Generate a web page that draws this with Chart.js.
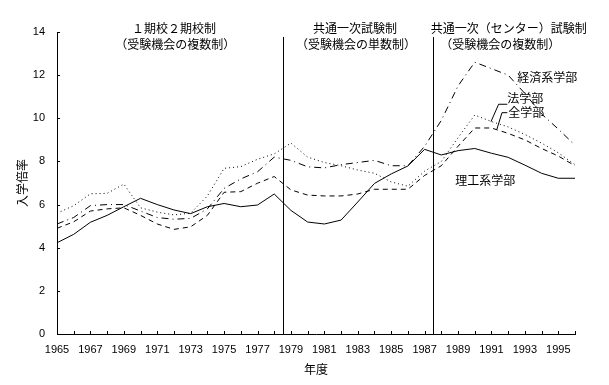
<!DOCTYPE html>
<html>
<head>
<meta charset="utf-8">
<script src="https://cdn.jsdelivr.net/npm/chart.js@4"></script>
<style>
  html, body { margin: 0; padding: 0; background: #fff; }
</style>
</head>
<body>
<canvas id="grafico" width="609" height="385"></canvas>
<script>
// 年度
const anos = [1965, 1966, 1967, 1968, 1969, 1970, 1971, 1972, 1973, 1974, 1975, 1976, 1977, 1978, 1979, 1980,
              1981, 1982, 1983, 1984, 1985, 1986, 1987, 1988, 1989, 1990, 1991, 1992, 1993, 1994, 1995, 1996];

// 入学倍率 (読み取り値)
const rikouKei = [4.23, 4.62, 5.18, 5.5, 5.9, 6.29, 6.0, 5.75, 5.58, 5.9, 6.05, 5.9, 5.98, 6.49, 5.73, 5.19,
                  5.1, 5.28, 6.12, 6.98, 7.42, 7.79, 8.56, 8.3, 8.5, 8.6, 8.38, 8.19, 7.83, 7.45, 7.22, 7.22];
const hougakubu = [5.6, 5.95, 6.5, 6.52, 6.95, 5.85, 5.65, 5.52, 5.6, 6.4, 7.68, 7.76, 8.1, 8.35, 8.85, 8.2,
                   7.95, 7.8, 7.6, 7.45, 7.05, 6.85, 7.55, 8.0, 9.1, 10.15, 9.85, 9.6, 9.25, 8.85, 8.4, 7.85];
const keizaiKei = [5.1, 5.4, 5.95, 6.0, 6.0, 5.7, 5.4, 5.32, 5.36, 5.8, 6.75, 7.19, 7.52, 8.2, 8.05, 7.75,
                   7.7, 7.85, 7.95, 8.05, 7.8, 7.8, 8.7, 9.9, 11.5, 12.6, 12.3, 12.0, 11.15, 10.2, 9.5, 8.75];
const zengakubu = [4.9, 5.2, 5.7, 5.8, 5.85, 5.5, 5.1, 4.85, 4.97, 5.5, 6.57, 6.6, 6.99, 7.3, 6.68, 6.44,
                   6.4, 6.4, 6.49, 6.71, 6.71, 6.71, 7.35, 7.8, 8.7, 9.55, 9.55, 9.3, 9.0, 8.6, 8.25, 7.8];

// 制度の区切り
const kugiri = [1978.5, 1987.5];
const seidoMidashi = [
    { x: 1972.0, text: '１期校２期校制', row: 0 },
    { x: 1972.07, text: '（受験機会の複数制）', row: 1 },
    { x: 1982.84, text: '共通一次試験制', row: 0 },
    { x: 1982.9, text: '（受験機会の単数制）', row: 1 },
    { x: 1992.04, text: '共通一次（センター）試験制', row: 0 },
    { x: 1991.53, text: '（受験機会の複数制）', row: 1 }
];

// 系列ラベル
const keiretsuLabels = [
    { text: '経済系学部', x: 1992.54, y: 11.91 },
    { text: '法学部', x: 1991.95, y: 10.94 },
    { text: '全学部', x: 1992.0, y: 10.25 },
    { text: '理工系学部', x: 1988.83, y: 7.14 }
];
const hikidashi = [
    [[1991.95, 10.65], [1991.43, 10.65], [1990.97, 9.84]],
    [[1991.95, 10.26], [1991.63, 10.26], [1991.33, 9.5]]
];

const FONTE_JP = "'Noto Sans CJK JP', sans-serif";
const FONTE_NUM = "'Liberation Sans', Arial, sans-serif";

function serie(valores) {
    return anos.map((a, i) => ({ x: a, y: valores[i] }));
}

function linha(label, valores, dash) {
    return {
        label: label,
        data: serie(valores),
        borderColor: '#000',
        borderWidth: 1,
        borderDash: dash,
        pointRadius: 0,
        tension: 0,
        fill: false
    };
}

const anotacoes = {
    id: 'anotacoes',
    afterDraw(chart) {
        const ctx = chart.ctx;
        const xs = chart.scales.x;
        const ys = chart.scales.y;
        const area = chart.chartArea;
        ctx.save();
        ctx.strokeStyle = '#000';
        ctx.fillStyle = '#000';
        ctx.lineWidth = 1;

        // 内向きの目盛り
        ctx.beginPath();
        xs.ticks.forEach(t => {
            const px = Math.round(xs.getPixelForValue(t.value)) + 0.5;
            ctx.moveTo(px, area.bottom);
            ctx.lineTo(px, area.bottom - 3);
        });
        ys.ticks.forEach(t => {
            const py = Math.round(ys.getPixelForValue(t.value)) + 0.5;
            ctx.moveTo(area.left, py);
            ctx.lineTo(area.left + 3, py);
        });
        ctx.stroke();

        // 区切り線
        ctx.beginPath();
        kugiri.forEach(k => {
            const px = Math.round(xs.getPixelForValue(k)) + 0.5;
            ctx.moveTo(px, ys.getPixelForValue(13.77));
            ctx.lineTo(px, area.bottom);
        });
        ctx.stroke();

        // 引出し線
        ctx.beginPath();
        hikidashi.forEach(pts => {
            pts.forEach((p, i) => {
                const px = xs.getPixelForValue(p[0]);
                const py = ys.getPixelForValue(p[1]);
                if (i === 0) ctx.moveTo(px, py); else ctx.lineTo(px, py);
            });
        });
        ctx.stroke();

        ctx.font = '12px ' + FONTE_JP;
        ctx.textBaseline = 'middle';
        ctx.textAlign = 'center';
        seidoMidashi.forEach(m => {
            const py = area.top - 4 + m.row * 16;
            ctx.fillText(m.text, xs.getPixelForValue(m.x), py);
        });

        ctx.textAlign = 'left';
        keiretsuLabels.forEach(l => {
            ctx.fillText(l.text, xs.getPixelForValue(l.x), ys.getPixelForValue(l.y));
        });
        ctx.restore();
    }
};

window.addEventListener('load', function() {
    const ctx = document.getElementById('grafico').getContext('2d');
    new Chart(ctx, {
        type: 'line',
        data: {
            datasets: [
                linha('理工系学部', rikouKei, []),
                linha('法学部', hougakubu, [1, 3]),
                linha('経済系学部', keizaiKei, [7, 4, 1, 4]),
                linha('全学部', zengakubu, [5, 4])
            ]
        },
        options: {
            responsive: false,
            animation: false,
            layout: { padding: { top: 32, right: 34, left: 0, bottom: 0 } },
            plugins: {
                legend: { display: false },
                tooltip: { enabled: false }
            },
            scales: {
                x: {
                    type: 'linear',
                    min: 1965,
                    max: 1996,
                    afterFit: s => { s.height = 51; },
                    grid: { display: false },
                    border: { display: true, color: '#000', width: 1 },
                    ticks: {
                        stepSize: 1,
                        autoSkip: false,
                        maxRotation: 0,
                        padding: 1,
                        color: '#000',
                        font: { family: FONTE_NUM, size: 11 },
                        callback: v => (v % 2 === 1 ? String(v) : '')
                    },
                    title: {
                        display: true,
                        text: '年度',
                        color: '#000',
                        font: { family: FONTE_JP, size: 12 },
                        padding: { top: 0, bottom: 8 }
                    }
                },
                y: {
                    min: 0,
                    max: 14,
                    afterFit: s => { s.width = 57; },
                    grid: { display: false },
                    border: { display: true, color: '#000', width: 1 },
                    ticks: {
                        stepSize: 2,
                        padding: 4,
                        color: '#000',
                        font: { family: FONTE_NUM, size: 11 }
                    },
                    title: {
                        display: true,
                        text: '入学倍率',
                        color: '#000',
                        font: { family: FONTE_JP, size: 12 },
                        padding: { top: 15, bottom: 0 }
                    }
                }
            }
        },
        plugins: [anotacoes]
    });
});
</script>
</body>
</html>
